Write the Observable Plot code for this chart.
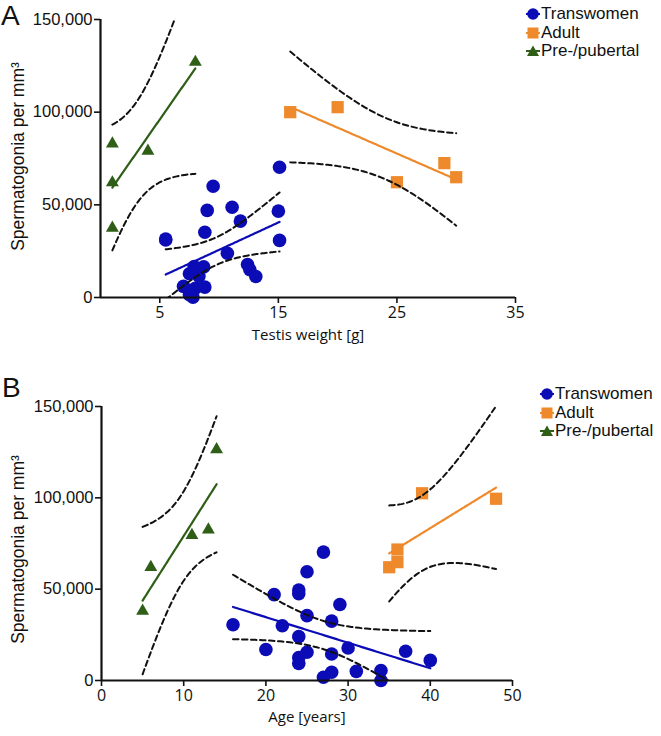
<!DOCTYPE html>
<html><head><meta charset="utf-8">
<script src="https://cdn.jsdelivr.net/npm/d3@7"></script>
<script src="https://cdn.jsdelivr.net/npm/@observablehq/plot@0.6"></script>
<style>
body{margin:0;background:#fff;}
#wrap{position:relative;width:661px;height:736px;overflow:hidden;font-family:"Liberation Sans",Arial,sans-serif;color:#111;}
.panel{position:absolute;left:0;}
.letter{position:absolute;font-size:28px;line-height:28px;}
.legend{position:absolute;font-size:17px;line-height:18.5px;}
.legend div{display:flex;align-items:center;white-space:nowrap;}
.legend svg{margin-right:1px;}
</style></head><body><div id="wrap"></div>
<script>
// ---------- data ----------
// Panel A: testis weight [g] vs spermatogonia per mm³
const transA_weight = [15.1, 9.5, 9.0, 11.1, 15.0, 11.8, 8.8, 5.5, 5.5, 15.1, 10.7, 12.4, 12.6, 13.1, 8.7, 7.9, 8.2, 7.5, 8.3, 7.0, 8.0, 8.8, 7.5, 7.8];
const transA_sperm  = [70300, 60000, 47000, 48700, 46600, 41200, 35200, 31600, 31000, 30800, 23900, 17800, 15000, 11300, 16500, 16700, 15500, 12800, 11500, 6000, 5000, 5600, 1500, 200];
const adultA_weight = [16, 20, 25, 29, 30];
const adultA_sperm  = [100000, 102700, 62200, 72500, 64900];
const preA_weight   = [1, 1, 1, 4, 8];
const preA_sperm    = [83000, 62000, 37500, 79000, 127000];

// Panel B: age [years] vs spermatogonia per mm³
const transB_age   = [16, 20, 21, 22, 24, 24, 24, 25, 25, 24, 24, 25, 27, 29, 28, 30, 37, 40, 28, 31, 34, 34, 27, 28];
const transB_sperm = [30500, 17000, 47000, 30000, 24000, 49500, 47500, 59500, 35500, 12500, 9300, 15500, 70300, 41600, 32500, 17800, 16000, 11000, 14500, 5000, 5500, 0, 1800, 4500];
const adultB_age   = [35, 36, 36, 39, 48];
const adultB_sperm = [62000, 64800, 71700, 102500, 99500];
const preB_age     = [5, 6, 11, 13, 14];
const preB_sperm   = [38000, 62000, 79500, 82500, 126500];

const groupNames = ["Transwomen", "Adult", "Pre-/pubertal"];
const yTicks  = [0, 50000, 100000, 150000];
const xTicksA = [5, 15, 25, 35];
const xTicksB = [0, 10, 20, 30, 40, 50];

// ---------- styles ----------
const colors  = {"Transwomen": "#0c0cb6", "Adult": "#ee8a2b", "Pre-/pubertal": "#2f5f17"};
const symbols = {"Transwomen": "circle", "Adult": "square", "Pre-/pubertal": "triangle"};
const radii   = {"Transwomen": 6.8, "Adult": 6.9, "Pre-/pubertal": 4.8};
const tickFont  = "'Open Sans', sans-serif";
const yFont = "'Liberation Sans', Arial, sans-serif";

// Student t 0.975 quantiles
const t975 = {1:12.706,2:4.303,3:3.182,4:2.776,5:2.571,6:2.447,7:2.365,8:2.306,9:2.262,10:2.228,11:2.201,12:2.179,13:2.160,14:2.145,15:2.131,16:2.120,17:2.110,18:2.101,19:2.093,20:2.086,21:2.080,22:2.074,23:2.069,24:2.064,25:2.060,26:2.056,27:2.052,28:2.048,29:2.045,30:2.042};

function regress(xs, ys) {
  const n = xs.length, mx = d3.mean(xs), my = d3.mean(ys);
  const sxx = d3.sum(xs, x => (x - mx) ** 2);
  const sxy = d3.sum(xs.map((x, i) => (x - mx) * (ys[i] - my)));
  const b = sxy / sxx, a = my - b * mx;
  const sse = d3.sum(xs.map((x, i) => (ys[i] - a - b * x) ** 2));
  const s = Math.sqrt(sse / (n - 2));
  const t = t975[n - 2] || 1.96;
  const [x0, x1] = d3.extent(xs);
  const steps = 80;
  return d3.range(steps + 1).map(k => {
    const x = x0 + (x1 - x0) * k / steps;
    const yh = a + b * x;
    const h = t * s * Math.sqrt(1 / n + (x - mx) ** 2 / sxx);
    return {x, y: yh, lo: yh - h, hi: yh + h};
  });
}

function panel(groups, xDomain, xTicks, opts) {
  const marks = [];
  const rows = [];
  groups.forEach(g => g.xs.forEach((x, i) => rows.push({x, y: g.ys[i], group: g.name})));
  const fits = groups.map(g => ({g, fit: regress(g.xs, g.ys)}));
  for (const g of groups) {
    marks.push(Plot.dot(rows.filter(r => r.group === g.name), {
      x: "x", y: "y", fill: colors[g.name], stroke: "none",
      r: radii[g.name], symbol: symbols[g.name]
    }));
  }
  for (const {g, fit} of fits) {
    marks.push(Plot.line(fit, {x: "x", y: "y", stroke: colors[g.name], strokeWidth: 2.2}));
  }
  for (const {fit} of fits) {
    for (const k of ["hi", "lo"]) {
      marks.push(Plot.line(fit, {x: "x", y: k, stroke: "#111", strokeWidth: 2, strokeDasharray: "5.5,3.5", clip: true}));
    }
  }
  marks.push(Plot.ruleY([0], {stroke: "#111", strokeWidth: 2.2}));
  marks.push(Plot.ruleX([0], {stroke: "#111", strokeWidth: 2.2}));
  marks.push(Plot.axisY({ticks: yTicks, tickFormat: d3.format(","), tickSize: 6, tickPadding: 2,
    fontSize: 16.5, fontFamily: yFont, strokeWidth: 1.6, label: null}));
  marks.push(Plot.axisX({ticks: xTicks, tickFormat: d => String(d), tickSize: 6, tickPadding: 3,
    fontSize: 16, fontFamily: tickFont, strokeWidth: 1.6, label: null}));
  marks.push(Plot.text([opts.xLabel], {frameAnchor: "bottom", dy: opts.xLabelDy, fontSize: 15,
    fontFamily: tickFont, fill: "#111", textAnchor: "middle"}));
  marks.push(Plot.text(["Spermatogonia per mm³"], {frameAnchor: "left", dx: -opts.yLabelDx, dy: opts.yLabelDy,
    rotate: -90, textAnchor: "middle", fontSize: 17.5, fontFamily: yFont, fill: "#111"}));
  return Plot.plot({
    width: 661, height: opts.height,
    marginLeft: opts.ml, marginRight: opts.mr, marginTop: opts.mt, marginBottom: opts.mb,
    style: {background: "transparent", overflow: "visible", color: "#111"},
    x: {domain: xDomain},
    y: {domain: [0, 150000]},
    marks
  });
}

const groupsA = [
  {name: "Transwomen", xs: transA_weight, ys: transA_sperm},
  {name: "Adult", xs: adultA_weight, ys: adultA_sperm},
  {name: "Pre-/pubertal", xs: preA_weight, ys: preA_sperm}
];
const groupsB = [
  {name: "Transwomen", xs: transB_age, ys: transB_sperm},
  {name: "Adult", xs: adultB_age, ys: adultB_sperm},
  {name: "Pre-/pubertal", xs: preB_age, ys: preB_sperm}
];

const wrap = document.getElementById("wrap");
const svgA = panel(groupsA, [0, 35], xTicksA, {height: 350, ml: 100, mr: 146, mt: 19, mb: 53,
  xLabel: "Testis weight [g]", xLabelDy: 42, yLabelDx: 82, yLabelDy: -2});
svgA.classList.add("panel"); svgA.style.top = "0px";
wrap.appendChild(svgA);
const svgB = panel(groupsB, [0, 50], xTicksB, {height: 366, ml: 101, mr: 149, mt: 36, mb: 56,
  xLabel: "Age [years]", xLabelDy: 41, yLabelDx: 83, yLabelDy: 6});
svgB.classList.add("panel"); svgB.style.top = "370px";
wrap.appendChild(svgB);

for (const [txt, l, t] of [["A", 1, 2], ["B", 2, 374]]) {
  const d = document.createElement("div");
  d.className = "letter"; d.textContent = txt;
  d.style.left = l + "px"; d.style.top = t + "px";
  wrap.appendChild(d);
}

function legend(left, top) {
  const box = document.createElement("div");
  box.className = "legend"; box.style.left = left + "px"; box.style.top = top + "px";
  for (const name of groupNames) {
    const row = document.createElement("div");
    const c = colors[name];
    let shape;
    if (name === "Transwomen") shape = `<circle cx="7" cy="7" r="5.8" fill="${c}"/>`;
    else if (name === "Adult") shape = `<rect x="1.5" y="1.5" width="11" height="11" fill="${c}"/>`;
    else shape = `<path d="M7,1.5 L13,12 L1,12 Z" fill="${c}"/>`;
    row.innerHTML = `<svg width="14" height="14"><line x1="0" x2="14" y1="7" y2="7" stroke="${c}" stroke-width="2"/>${shape}</svg><span>${name}</span>`;
    box.appendChild(row);
  }
  wrap.appendChild(box);
}
legend(526, 5);
legend(540, 385);
</script></body></html>
